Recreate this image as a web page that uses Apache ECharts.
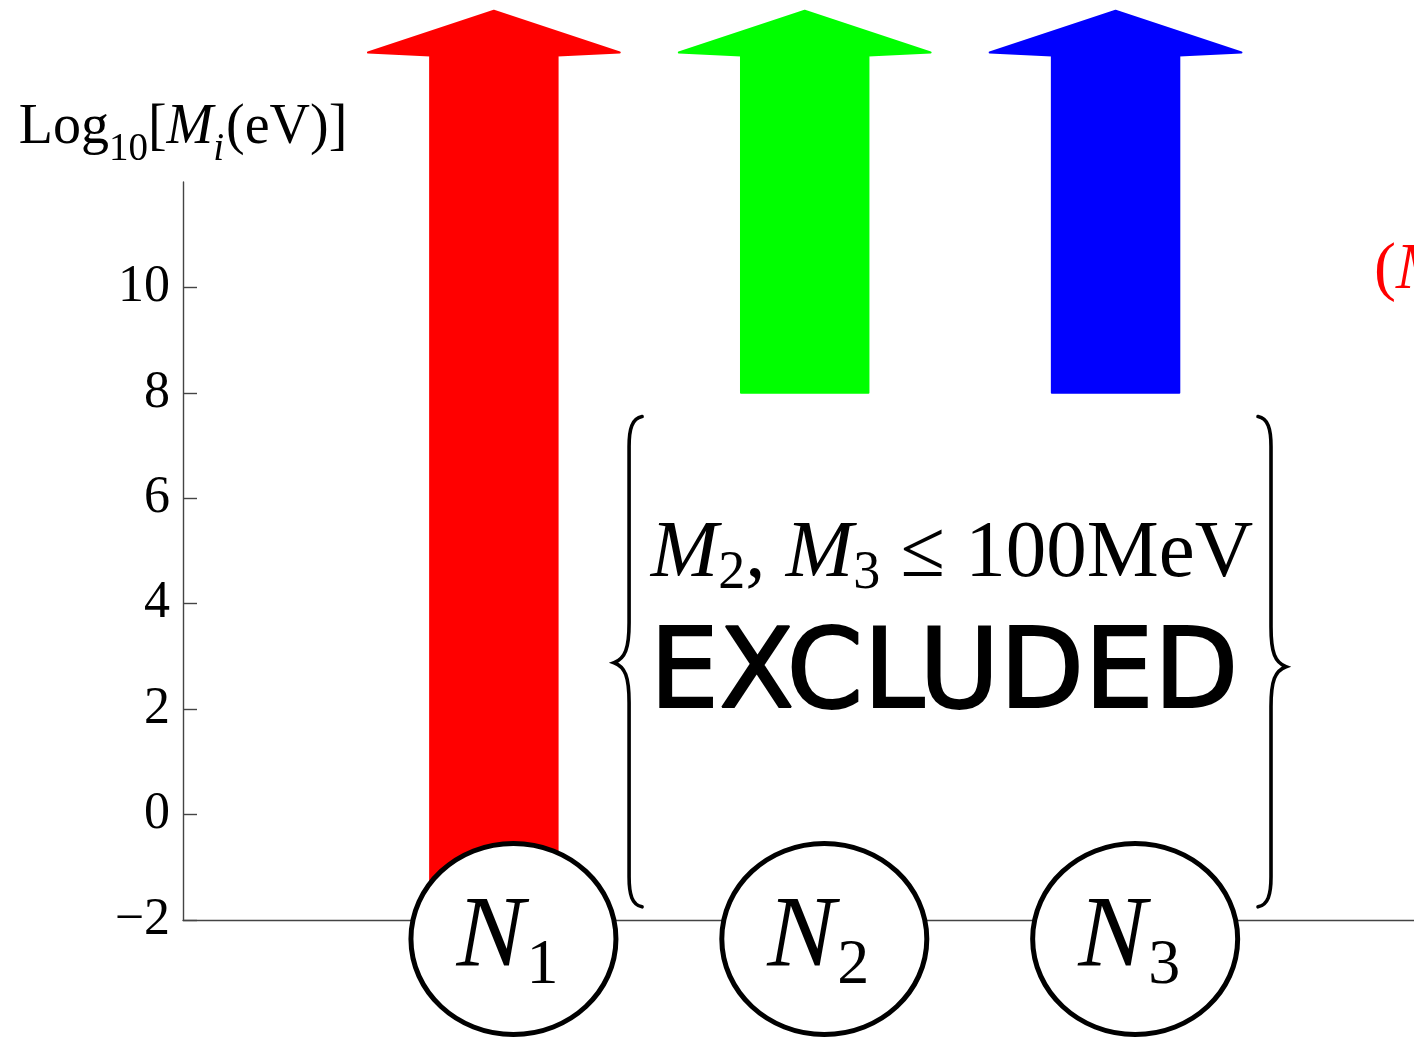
<!DOCTYPE html>
<html>
<head>
<meta charset="utf-8">
<title>Heavy neutrino masses</title>
<script src="https://cdn.jsdelivr.net/npm/echarts@6/dist/echarts.min.js"></script>
<style>
  html, body { margin: 0; padding: 0; background: #ffffff; }
  #chart { width: 1414px; height: 1039px; }
</style>
</head>
<body>
<div id="chart"></div>
<script>
// Heavy neutral leptons N1..N3 and the allowed range of log10(M_i / eV)
const neutrinoIndex = ['1', '2', '3'];
const slotPosition = [1, 2, 3];
const massLowerLog = [-2, 8, 8];          // lower end of each allowed mass arrow
const arrowColors = ['#ff0000', '#00ff00', '#0000ff'];
const yTickValues = [-2, 0, 2, 4, 6, 8, 10];
const excludedSpan = [-1.75, 7.55];       // log10 range covered by the brace
const excludedSlots = [1.435, 3.5];       // brace columns on the x scale

// arrow geometry (axis units)
const SHAFT_TOP = 14.4;
const ARROW_TIP = 15.25;
const SHAFT_W = 0.41;
const HEAD_W = 0.81;
// neutrino badge placement (axis units)
const BADGE_DX = 0.063;
const BADGE_Y = -2.36;

const SERIF = '"Liberation Serif", "DejaVu Serif", serif';
const chart = echarts.init(document.getElementById('chart'), null, { renderer: 'canvas' });

function braceLeft(x, yt, yb, ym) {
  return 'M' + (x + 13) + ' ' + yt +
    ' C' + (x + 3) + ' ' + (yt + 2) + ' ' + x + ' ' + (yt + 12) + ' ' + x + ' ' + (yt + 30) +
    ' L' + x + ' ' + (ym - 40) +
    ' C' + x + ' ' + (ym - 14) + ' ' + (x - 4) + ' ' + (ym - 4) + ' ' + (x - 15) + ' ' + ym +
    ' C' + (x - 4) + ' ' + (ym + 4) + ' ' + x + ' ' + (ym + 14) + ' ' + x + ' ' + (ym + 40) +
    ' L' + x + ' ' + (yb - 30) +
    ' C' + x + ' ' + (yb - 12) + ' ' + (x + 3) + ' ' + (yb - 2) + ' ' + (x + 13) + ' ' + yb;
}
function braceRight(x, yt, yb, ym) {
  return 'M' + (x - 13) + ' ' + yt +
    ' C' + (x - 3) + ' ' + (yt + 2) + ' ' + x + ' ' + (yt + 12) + ' ' + x + ' ' + (yt + 30) +
    ' L' + x + ' ' + (ym - 40) +
    ' C' + x + ' ' + (ym - 14) + ' ' + (x + 4) + ' ' + (ym - 4) + ' ' + (x + 15) + ' ' + ym +
    ' C' + (x + 4) + ' ' + (ym + 4) + ' ' + x + ' ' + (ym + 14) + ' ' + x + ' ' + (ym + 40) +
    ' L' + x + ' ' + (yb - 30) +
    ' C' + x + ' ' + (yb - 12) + ' ' + (x - 3) + ' ' + (yb - 2) + ' ' + (x - 13) + ' ' + yb;
}

const option = {
  animation: false,
  backgroundColor: '#ffffff',
  grid: { left: 183, top: 182, right: 0, bottom: 119 },
  xAxis: {
    type: 'value', min: 0, max: 3.96,
    axisLine: { show: true, onZero: false, lineStyle: { color: '#444', width: 1.4 } },
    axisTick: { show: false }, axisLabel: { show: false }, splitLine: { show: false }
  },
  yAxis: {
    type: 'value', min: -2, max: 12, interval: 2,
    axisLine: { show: true, lineStyle: { color: '#444', width: 1.4 } },
    axisTick: { show: true, inside: true, length: 14, customValues: yTickValues, lineStyle: { color: '#444', width: 1.4 } },
    axisLabel: {
      customValues: yTickValues,
      formatter: v => String(v).replace('-', '\u2212'),
      fontFamily: SERIF, fontSize: 52, color: '#000', margin: 13
    },
    splitLine: { show: false },
    name: '{a|Log}{s|10}{a|[}{i|M}{si|i}{a|(eV)]}',
    nameLocation: 'end',
    nameGap: 20,
    nameTextStyle: {
      align: 'center', verticalAlign: 'bottom', color: '#000',
      rich: {
        a: { fontFamily: SERIF, fontSize: 56, lineHeight: 62, verticalAlign: 'top', color: '#000' },
        i: { fontFamily: SERIF, fontSize: 56, fontStyle: 'italic', lineHeight: 62, verticalAlign: 'top', color: '#000' },
        s: { fontFamily: SERIF, fontSize: 39, lineHeight: 42, padding: [30, 0, 0, 0], verticalAlign: 'top', color: '#000' },
        si: { fontFamily: SERIF, fontSize: 39, fontStyle: 'italic', lineHeight: 42, padding: [30, 2, 0, 0], verticalAlign: 'top', color: '#000' }
      }
    }
  },
  series: [
    {
      // upward arrows: allowed mass ranges
      type: 'custom', name: 'mass range', clip: false, z: 2,
      data: massLowerLog.map((v, i) => [slotPosition[i], v, i]),
      encode: { x: 0, y: 1 },
      renderItem: function (params, api) {
        const x = api.value(0), y0 = api.value(1), i = api.value(2);
        const base = api.coord([x, y0]);
        const top = api.coord([x, SHAFT_TOP]);
        const tip = api.coord([x, ARROW_TIP]);
        const hs = api.size([SHAFT_W, 0])[0] / 2;
        const hh = api.size([HEAD_W, 0])[0] / 2;
        const cx = base[0];
        return {
          type: 'polygon',
          shape: { points: [
            [cx - hs, base[1]], [cx - hs, top[1]], [cx - hh, top[1] - 3], [tip[0], tip[1]],
            [cx + hh, top[1] - 3], [cx + hs, top[1]], [cx + hs, base[1]]
          ] },
          style: { fill: arrowColors[i], stroke: arrowColors[i], lineWidth: 2, lineJoin: 'round' }
        };
      }
    },
    {
      // N_i badges sitting on the axis
      type: 'custom', name: 'neutrinos', clip: false, z: 4,
      data: slotPosition.map((x, i) => [x + BADGE_DX, BADGE_Y, i]),
      encode: { x: 0, y: 1 },
      renderItem: function (params, api) {
        const c = api.coord([api.value(0), api.value(1)]);
        const i = api.value(2);
        return {
          type: 'group',
          children: [
            { type: 'ellipse', shape: { cx: c[0], cy: c[1], rx: 102.5, ry: 95.5 },
              style: { fill: '#ffffff', stroke: '#000', lineWidth: 5 } },
            { type: 'text', z2: 10,
              style: {
                x: c[0] - 6, y: c[1] + 2, align: 'center', verticalAlign: 'middle',
                text: '{n|N}{s|' + neutrinoIndex[i] + '}',
                rich: {
                  n: { fontFamily: SERIF, fontSize: 102, fontStyle: 'italic', lineHeight: 106, verticalAlign: 'top', fill: '#000' },
                  s: { fontFamily: SERIF, fontSize: 64, lineHeight: 68, padding: [46, 0, 0, 2], verticalAlign: 'top', fill: '#000' }
                }
              } }
          ]
        };
      }
    },
    {
      // excluded region for M2, M3
      type: 'custom', name: 'excluded', clip: false, z: 3,
      data: [[excludedSlots[0], excludedSpan[0], excludedSlots[1], excludedSpan[1]]],
      encode: { x: [0, 2], y: [1, 3] },
      renderItem: function (params, api) {
        const lb = api.coord([api.value(0), api.value(1)]);
        const rt = api.coord([api.value(2), api.value(3)]);
        const yt = rt[1], yb = lb[1], ym = (yt + yb) / 2 + 1;
        const midX = (lb[0] + rt[0]) / 2;
        return {
          type: 'group',
          children: [
            { type: 'path', shape: { pathData: braceLeft(lb[0], yt, yb, ym) },
              style: { fill: null, stroke: '#000', lineWidth: 3.6, lineCap: 'round' } },
            { type: 'path', shape: { pathData: braceRight(rt[0], yt, yb, ym + 4) },
              style: { fill: null, stroke: '#000', lineWidth: 3.6, lineCap: 'round' } },
            { type: 'text',
              style: {
                x: midX + 2, y: yt + 140, align: 'center', verticalAlign: 'middle',
                text: '{i|M}{s|2}{a|, }{i|M}{s|3}{a| \u2264 100MeV}',
                rich: {
                  a: { fontFamily: SERIF, fontSize: 81, lineHeight: 84, verticalAlign: 'top', fill: '#000' },
                  i: { fontFamily: SERIF, fontSize: 81, fontStyle: 'italic', lineHeight: 84, verticalAlign: 'top', fill: '#000' },
                  s: { fontFamily: SERIF, fontSize: 54, lineHeight: 58, padding: [32, 0, 0, 0], verticalAlign: 'top', fill: '#000' }
                }
              } },
            { type: 'text',
              style: {
                x: midX - 6, y: yt + 262, align: 'center', verticalAlign: 'middle',
                text: 'EXCLUDED',
                fontFamily: '"DejaVu Sans", sans-serif',
                fontWeight: 'normal', fontSize: 110, fill: '#000',
                stroke: '#000', lineWidth: 2, lineJoin: 'round'
              } }
          ]
        };
      }
    }
  ],
  graphic: [
    {
      // red label continuing past the right edge
      type: 'text', left: 1374, top: 238, z: 5,
      style: {
        text: '{p|(}{i|M}{s|1}',
        rich: {
          p: { fontFamily: SERIF, fontSize: 66, lineHeight: 72, verticalAlign: 'top', fill: '#ff0000' },
          i: { fontFamily: SERIF, fontSize: 66, fontStyle: 'italic', lineHeight: 72, verticalAlign: 'top', fill: '#ff0000' },
          s: { fontFamily: SERIF, fontSize: 44, lineHeight: 48, padding: [30, 0, 0, 0], verticalAlign: 'top', fill: '#ff0000' }
        }
      }
    }
  ]
};

chart.setOption(option);
</script>
</body>
</html>
